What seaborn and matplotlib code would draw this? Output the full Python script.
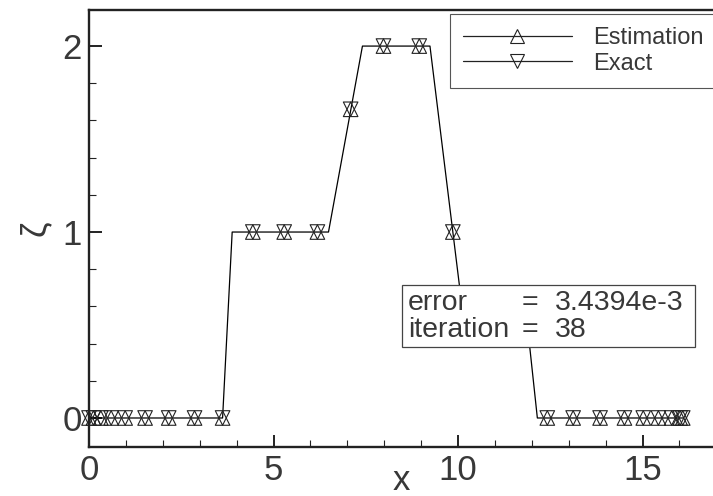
import matplotlib
matplotlib.use("Agg")
import matplotlib.pyplot as plt
import seaborn as sns
from matplotlib.lines import Line2D
from matplotlib.patches import Rectangle
from matplotlib.ticker import MultipleLocator

# ------------------------------
# data
# ------------------------------
# exact profile (line vertices)
x_line = [0.0, 3.62, 3.88, 6.49, 7.41, 9.24, 10.17, 11.88, 12.15, 16.09]
z_line = [0.0, 0.0, 1.0, 1.0, 2.0, 2.0, 0.5, 0.5, 0.0, 0.0]

# grid nodes carrying markers
x_nodes = [0.0, 0.12, 0.32, 0.60, 0.98, 1.52, 2.16, 2.86, 3.62,
           4.44, 5.29, 6.19, 7.09, 7.98, 8.95, 9.86, 10.81, 11.66,
           12.42, 13.12, 13.85, 14.51, 15.02, 15.43, 15.79, 16.02, 16.09]
z_exact = [0, 0, 0, 0, 0, 0, 0, 0, 0,
           1, 1, 1, 1.66, 2, 2, 1.0, 0.5, 0.5,
           0, 0, 0, 0, 0, 0, 0, 0, 0]
z_est = [0, 0, 0, 0, 0, 0, 0, 0, 0,
         1, 1, 1, 1.66, 2, 2, 1.0, 0.5, 0.5,
         0, 0, 0, 0, 0, 0, 0, 0, 0]

series_names = ["Estimation", "Exact"]
info_labels = ["error", "iteration"]
info_values = ["3.4394e-3", "38"]

# ------------------------------
# style
# ------------------------------
sns.set_style("ticks")
plt.rcParams["font.family"] = ["Liberation Sans", "DejaVu Sans"]
TXT = "#383838"

W, H = 713, 496
fig = plt.figure(figsize=(W / 100, H / 100), dpi=100)
ax = fig.add_axes([89 / W, (H - 447) / H, (W - 89) / W, 437 / H])

sns.lineplot(x=x_line, y=z_line, color="black", linewidth=0.9,
             estimator=None, ax=ax, zorder=2)
mk = dict(s=110, facecolor="none", edgecolor="#222222", linewidth=0.8,
          clip_on=False, zorder=3, ax=ax, legend=False)
sns.scatterplot(x=x_nodes, y=z_est, marker="^", **mk)
sns.scatterplot(x=x_nodes, y=z_exact, marker="v", **mk)

ax.set_xlim(0, 16.91)
ax.set_ylim(-0.156, 2.194)
ax.xaxis.set_major_locator(MultipleLocator(5))
ax.xaxis.set_minor_locator(MultipleLocator(1))
ax.yaxis.set_major_locator(MultipleLocator(1))
ax.yaxis.set_minor_locator(MultipleLocator(0.2))
ax.tick_params(which="major", direction="in", length=9, width=1.4,
               labelsize=25, pad=5, top=False, right=False,
               labelcolor=TXT, color="#222222")
ax.tick_params(which="minor", direction="in", length=5, width=0.8,
               top=False, right=False, color="#222222")

for side in ["left", "bottom", "top"]:
    ax.spines[side].set_linewidth(1.7)
    ax.spines[side].set_color("#222222")
ax.spines["right"].set_visible(False)

ax.set_xlabel("x", fontsize=25, color=TXT)
ax.set_ylabel("ζ", fontsize=25, color=TXT)
ax.xaxis.set_label_coords(0.5, -0.04)
ax.yaxis.set_label_coords(-0.06, 0.5)

# legend
handles = [
    Line2D([], [], color="#222222", lw=0.9, marker="^", markersize=10.5,
           mfc="none", mec="#222222", mew=0.8),
    Line2D([], [], color="#222222", lw=0.9, marker="v", markersize=10.5,
           mfc="none", mec="#222222", mew=0.8),
]
leg = fig.legend(handles, series_names, loc="upper left",
                 bbox_to_anchor=(450 / W, 0, 1 - 450 / W + 0.01, 1 - 14 / H),
                 mode="expand", fontsize=17, handlelength=4.6,
                 labelspacing=0.15, borderaxespad=0, borderpad=0.55,
                 fancybox=False, framealpha=1, edgecolor="#555555",
                 handletextpad=0.9, numpoints=1, labelcolor=TXT)
leg.get_frame().set_linewidth(0.8)

# info box
x0, x1 = 402, 695
y0, y1 = 285, 347
tr = fig.transFigure
fig.patches.append(Rectangle((x0 / W, 1 - y1 / H), (x1 - x0) / W, (y1 - y0) / H,
                             transform=tr, facecolor="white",
                             edgecolor="#444444", linewidth=0.9, zorder=5))
for i, (lab, val) in enumerate(zip(info_labels, info_values)):
    yc = 1 - (303 + 27 * i) / H
    kw = dict(fontsize=20.5, va="center", transform=tr, zorder=6, color=TXT)
    fig.text(408 / W, yc, lab, **kw)
    fig.text(522 / W, yc, "=", **kw)
    fig.text(555 / W, yc, val, **kw)

fig.savefig("out.png", dpi=100)
